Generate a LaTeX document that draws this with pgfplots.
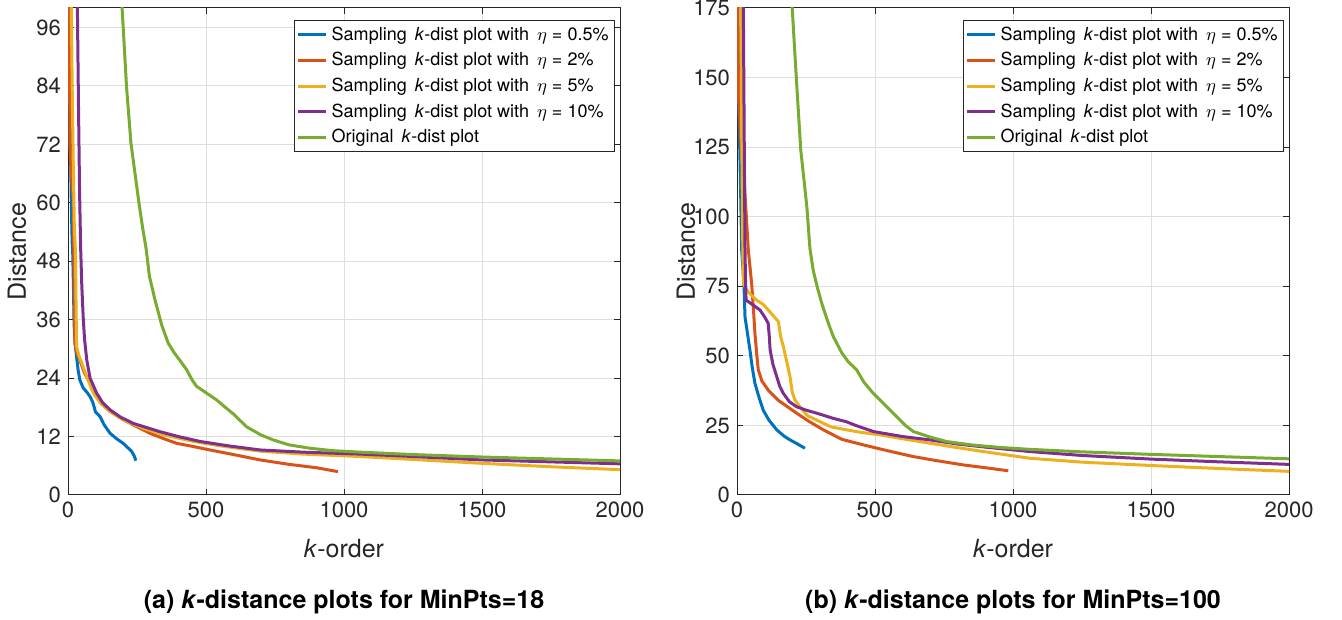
\documentclass[border=0pt]{standalone}
\usepackage{pgfplots}
\pgfplotsset{compat=1.18}
\usepackage{fontspec}
\setmainfont{TeX Gyre Heros}
\definecolor{mblue}{rgb}{0,0.447,0.741}
\definecolor{mred}{rgb}{0.85,0.325,0.098}
\definecolor{myellow}{rgb}{0.929,0.694,0.125}
\definecolor{mpurple}{rgb}{0.494,0.184,0.556}
\definecolor{mgreen}{rgb}{0.466,0.674,0.188}
\definecolor{axgray}{rgb}{0.15,0.15,0.15}
\pgfplotsset{
  kdist/.style={
    width=276pt, height=243.5pt, scale only axis,
    xmin=0, xmax=2000,
    xtick={0,500,1000,1500,2000},
    scaled x ticks=false,
    /pgf/number format/assume math mode=true,
    /pgf/number format/1000 sep={},
    tick label style={font=\fontsize{11}{13}\selectfont, text=axgray},
    axis line style={draw=axgray, line width=0.5pt},
    tick style={draw=axgray, line width=0.5pt},
    major tick length=2.8pt,
    tick align=inside, tick pos=both,
    grid=major, major grid style={draw=black!13, line width=0.5pt},
    xlabel={\textit{k}-order}, ylabel={Distance},
    every axis y label/.style={at={(axis description cs:-0.0924,0.5)}, rotate=90, anchor=center, font=\fontsize{12.5}{14}\selectfont, text=axgray},
    every axis x label/.style={at={(axis description cs:0.5,-0.109)}, anchor=center, font=\fontsize{12.5}{14}\selectfont, text=axgray},
    legend cell align=left,
    legend style={at={(rel axis cs:0.991,0.975)}, anchor=north east,
      font=\fontsize{9}{10.8}\selectfont, draw=axgray, line width=0.5pt,
      inner xsep=1pt, inner ysep=1pt, row sep=0.6pt},
    legend image code/.code={\draw[#1] (0pt,0pt) -- (14pt,0pt);},
    every axis plot/.append style={line width=1.5pt, no marks, line join=round},
  }
}
\begin{document}
\begin{tikzpicture}
\begin{axis}[kdist, at={(34pt,62.5pt)}, anchor=south west,
  ymin=0, ymax=100, ytick={0,12,24,36,48,60,72,84,96}]
\addplot[mblue] coordinates {(1,150) (4,100) (8,75) (12,60) (15,52) (17,50) (20,42) (22,35) (26,31) (31,28.4) (37,25.5) (43,23.6) (55,22) (70,21) (80,20.2) (90,19) (100,17) (116,16.1) (130,14.5) (152,12.7) (175,11.6) (200,10.6) (215,9.8) (230,9) (240,8) (246,7.05)};
\addlegendentry{Sampling \,\textit{k}-dist plot with \,$\eta$ = 0.5\%}
\addplot[mred] coordinates {(3,130) (5,100) (6,85) (7,72) (12,66) (19,60.6) (22,45) (25,31.2) (33,29) (43,27.7) (60,25) (80,23) (104,20.2) (130,18.3) (164,16.8) (200,15.5) (236,14.4) (300,12.6) (350,11.5) (394,10.6) (450,10) (514,9.25) (600,8.3) (696,7.2) (800,6.3) (900,5.6) (978,4.8)};
\addlegendentry{Sampling \,\textit{k}-dist plot with \,$\eta$ = 2\%}
\addplot[myellow] coordinates {(8,130) (12,100) (16,80) (20,65) (23,55) (27,50) (29,40) (31,30.5) (40,28.5) (50,27.1) (70,24) (92,20.9) (120,18.7) (152,17.1) (200,15.4) (273,13.7) (350,12.3) (454,11.0) (550,10.1) (696,9.0) (850,8.4) (1058,7.9) (1250,7.3) (1500,6.5) (1750,5.8) (2000,5.2)};
\addlegendentry{Sampling \,\textit{k}-dist plot with \,$\eta$ = 5\%}
\addplot[mpurple] coordinates {(30,130) (34,100) (38,80) (42,62) (46,50.4) (50,43) (55,36.6) (60,32) (68,27.7) (80,24) (104,20.9) (125,19) (152,17.5) (190,16) (237,14.7) (333,13.0) (400,12) (478,11.0) (580,10.1) (696,9.25) (850,8.8) (1058,8.4) (1250,7.9) (1500,7.2) (1750,6.8) (2000,6.4)};
\addlegendentry{Sampling \,\textit{k}-dist plot with \,$\eta$ = 10\%}
\addplot[mgreen] coordinates {(190,110) (196,100) (212,83.9) (228,72.3) (257,60) (270,55) (283,50.6) (295,44.9) (315,40.1) (340,34.8) (363,31.2) (385,29.2) (410,27.3) (430,25.7) (450,23.6) (466,22.3) (500,21) (539,19.5) (570,18) (600,16.6) (647,14.0) (700,12.3) (744,11.3) (800,10.3) (877,9.6) (960,9.1) (1058,8.8) (1250,8.3) (1500,7.8) (1750,7.4) (2000,7.0)};
\addlegendentry{Original \,\textit{k}-dist plot}
\end{axis}
\begin{axis}[kdist, at={(368.5pt,62.5pt)}, anchor=south west,
  ymin=0, ymax=175, ytick={0,25,50,75,100,125,150,175}]
\addplot[mblue] coordinates {(1,260) (3,175) (6,142) (12,115) (17,88) (25,76) (29,64) (38,58) (47,52) (55,46) (65,40.1) (80,35) (95,30.5) (115,27) (144,23.4) (170,21.2) (192,19.8) (220,18.3) (246,16.8)};
\addlegendentry{Sampling \,\textit{k}-dist plot with \,$\eta$ = 0.5\%}
\addplot[mred] coordinates {(2,200) (3,175) (5,145) (15,125) (25,115) (29,108) (35,98) (41,88) (47,82) (53,76) (60,66) (65,58) (72,50) (77,45) (90,41) (113,37.7) (150,34) (216,29.4) (260,26.5) (313,23.4) (380,20) (458,18.0) (550,15.8) (639,13.8) (720,12.4) (820,10.8) (900,9.8) (983,8.7)};
\addlegendentry{Sampling \,\textit{k}-dist plot with \,$\eta$ = 2\%}
\addplot[myellow] coordinates {(10,220) (14,175) (17,130) (21,89) (23,76) (40,73) (71,70) (95,68.5) (113,66.5) (135,64) (150,62.3) (158,57) (168,53.3) (180,48) (192,42.5) (200,37) (210,34.1) (228,31.7) (255,28.5) (289,26.9) (340,24.5) (397,23.4) (450,22.5) (518,21.6) (600,20.2) (699,18.6) (800,17) (900,15.5) (1062,13.2) (1250,11.8) (1500,10.6) (1750,9.5) (2000,8.5)};
\addlegendentry{Sampling \,\textit{k}-dist plot with \,$\eta$ = 5\%}
\addplot[mpurple] coordinates {(20,220) (23,175) (26,130) (29,88) (31,76) (33,70) (55,68.5) (83,66.5) (100,64) (113,61.7) (117,57) (120,52.1) (130,47) (144,42.5) (155,39) (168,36.5) (190,33.5) (216,31.7) (250,30.5) (289,29.4) (350,27.5) (397,26.3) (430,25) (494,22.8) (600,21) (699,19.8) (800,18.3) (900,17.2) (1062,15.6) (1250,14.2) (1500,12.9) (1750,11.9) (2000,11)};
\addlegendentry{Sampling \,\textit{k}-dist plot with \,$\eta$ = 10\%}
\addplot[mgreen] coordinates {(195,190) (200,175) (216,148) (231,124) (253,103.6) (264,88.8) (276,80.8) (290,75) (307,68.9) (330,62) (349,56.9) (380,51) (403,47.9) (434,44.9) (460,40.5) (494,36.5) (540,32) (579,28.1) (610,25) (639,22.8) (700,20.8) (760,19.2) (850,18) (950,17.1) (1062,16.4) (1250,15.5) (1500,14.6) (1750,13.8) (2000,13)};
\addlegendentry{Original \,\textit{k}-dist plot}
\end{axis}
\node[font=\bfseries\fontsize{12.5}{14}\selectfont, text=black] at (172pt,9pt) {(a) \textit{k}-distance plots for MinPts=18};
\node[font=\bfseries\fontsize{12.5}{14}\selectfont, text=black] at (506.5pt,9pt) {(b) \textit{k}-distance plots for MinPts=100};
\pgfresetboundingbox
\useasboundingbox (0pt,0pt) rectangle (671pt,310pt);
\end{tikzpicture}
\end{document}
